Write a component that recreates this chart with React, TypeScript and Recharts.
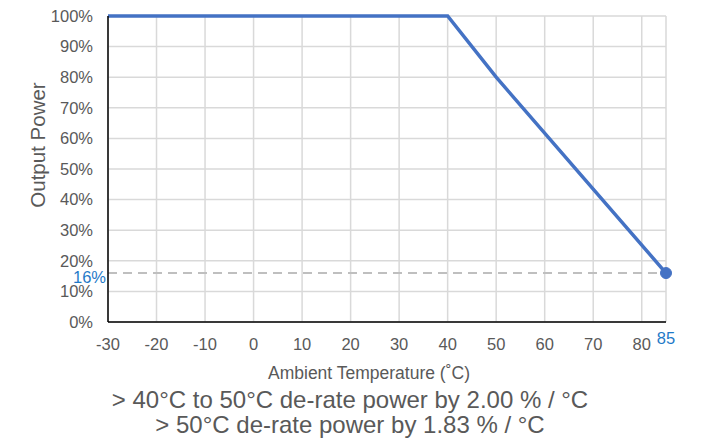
import React from 'react';
import { LineChart, Line, XAxis, YAxis, CartesianGrid, ReferenceLine } from 'recharts';

const temperatures = [-30, 40, 50, 85];
const outputPower = [100, 100, 80, 16];
const xTicks = [-30, -20, -10, 0, 10, 20, 30, 40, 50, 60, 70, 80, 85];
const yTicks = [0, 10, 20, 30, 40, 50, 60, 70, 80, 90, 100];
const minPowerLevel = 16;
const notes = [
  '> 40°C to 50°C de-rate power by 2.00 % / °C',
  '> 50°C de-rate power by 1.83 % / °C',
];

const data = temperatures.map((t, i) => ({ temp: t, power: outputPower[i] }));

const FONT = 'Arial, "Liberation Sans", sans-serif';
const GRAY = '#595959';
const BLUE = '#1F7AC8';
const LINE_BLUE = '#4472C4';

function XTick(props: any) {
  const { x, y, payload } = props;
  const isEnd = payload.value === 85;
  return (
    <text
      x={x}
      y={isEnd ? y - 6 : y}
      dy="0.71em"
      textAnchor="middle"
      fill={isEnd ? BLUE : GRAY}
      fontSize={16.5}
      fontFamily={FONT}
    >
      {payload.value}
    </text>
  );
}

function EndDot(props: any) {
  const { cx, cy, index } = props;
  if (index !== data.length - 1) return <g key={index} />;
  return <circle key={index} cx={cx} cy={cy} r={5.5} fill={LINE_BLUE} stroke={LINE_BLUE} />;
}

function MinLabel(props: any) {
  const { viewBox } = props;
  return (
    <text
      x={viewBox.x - 2}
      y={viewBox.y + 4}
      dy="0.355em"
      textAnchor="end"
      fill={BLUE}
      fontSize={16.5}
      fontFamily={FONT}
    >
      {minPowerLevel}%
    </text>
  );
}

export default function App() {
  return (
    <div style={{ position: 'absolute', left: 0, top: 0, width: 707, height: 442, background: '#fff', fontFamily: FONT }}>
      <LineChart width={707} height={442} data={data} margin={{ top: 16, right: 41, left: 0, bottom: 90 }}>
        <CartesianGrid stroke="#d9d9d9" strokeWidth={1.5} verticalValues={xTicks} horizontalValues={yTicks} />
        <XAxis
          dataKey="temp"
          type="number"
          domain={[-30, 85]}
          ticks={xTicks}
          interval={0}
          height={30}
          tickSize={0}
          tickMargin={16}
          tickLine={false}
          axisLine={{ stroke: '#000', strokeWidth: 1.5 }}
          tick={<XTick />}
        />
        <YAxis
          type="number"
          domain={[0, 100]}
          ticks={yTicks}
          interval={0}
          width={108}
          tickSize={0}
          tickMargin={15}
          tickLine={false}
          axisLine={{ stroke: '#000', strokeWidth: 1.5 }}
          tickFormatter={(v: number) => `${v}%`}
          tick={{ fill: GRAY, fontSize: 16.5, fontFamily: FONT }}
        />
        <ReferenceLine
          y={minPowerLevel}
          stroke="#bfbfbf"
          strokeWidth={2}
          strokeDasharray="9 6"
          label={<MinLabel />}
        />
        <Line
          type="linear"
          dataKey="power"
          stroke={LINE_BLUE}
          strokeWidth={3.5}
          dot={<EndDot />}
          activeDot={false}
          isAnimationActive={false}
        />
      </LineChart>
      <div
        style={{
          position: 'absolute',
          left: 38,
          top: 145,
          transform: 'translate(-50%, -50%) rotate(-90deg)',
          whiteSpace: 'nowrap',
          fontSize: 20.5,
          color: GRAY,
        }}
      >
        Output Power
      </div>
      <div
        style={{
          position: 'absolute',
          left: 369,
          top: 373,
          transform: 'translate(-50%, -50%)',
          whiteSpace: 'nowrap',
          fontSize: 17.5,
          color: GRAY,
        }}
      >
        Ambient Temperature (˚C)
      </div>
      {notes.map((n, i) => (
        <div
          key={i}
          style={{
            position: 'absolute',
            left: 350,
            top: 400 + i * 25,
            transform: 'translate(-50%, -50%)',
            whiteSpace: 'nowrap',
            fontSize: 24,
            color: GRAY,
          }}
        >
          {n}
        </div>
      ))}
    </div>
  );
}
